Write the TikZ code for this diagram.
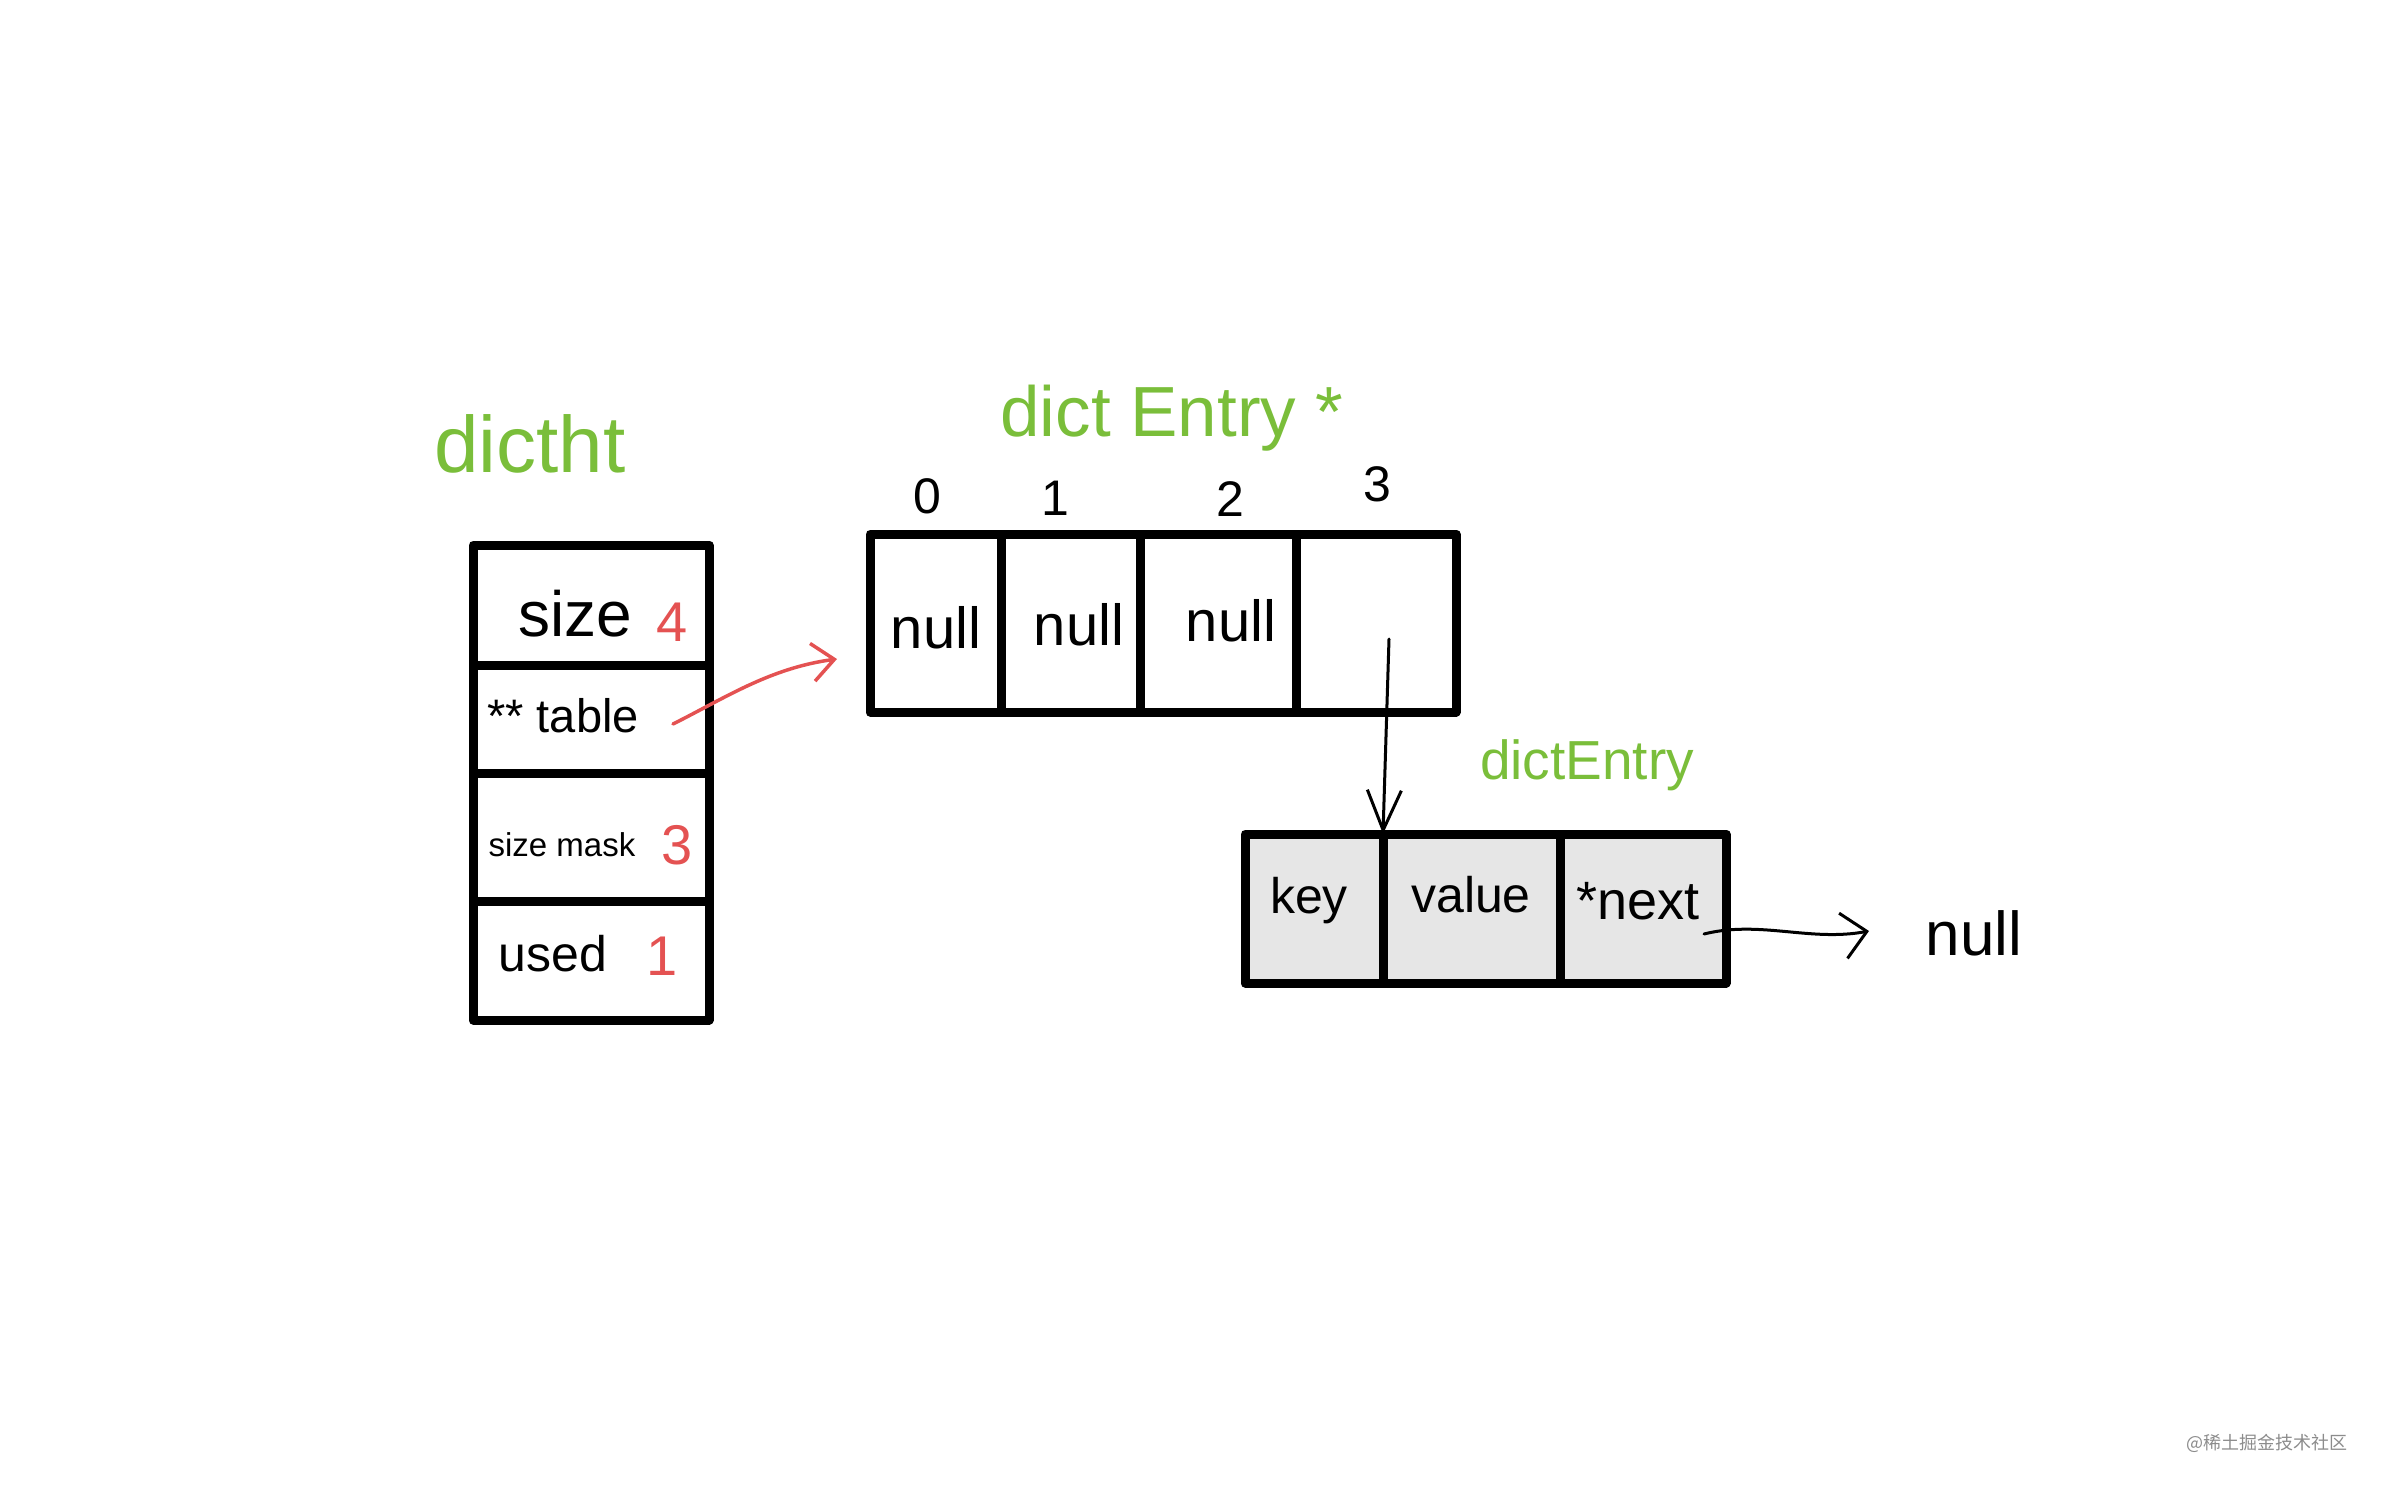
\documentclass[tikz,border=0pt]{standalone}
\usepackage{fontspec}
\setmainfont{Liberation Sans}
\newfontfamily\cjkfont{Noto Sans CJK SC}
\usetikzlibrary{arrows.meta}
\definecolor{hgreen}{RGB}{122,190,58}
\definecolor{hred}{RGB}{228,82,82}
\definecolor{cellgray}{RGB}{230,230,230}
\begin{document}
\begin{tikzpicture}[x=1pt,y=-1pt,
  cell/.style={draw=black,line width=9pt,inner sep=0pt,outer sep=0pt,line join=round},
  ecell/.style={cell,fill=cellgray},
  txt/.style={inner sep=0pt,font=\fontsize{#1}{#1}\selectfont},
  gtxt/.style={txt=#1,text=hgreen},
  rtxt/.style={txt=#1,text=hred},
  ptr/.style={line width=3pt,-{Straight Barb[length=#1]},line cap=round},
]
\useasboundingbox (0,0) rectangle (2386,1491);
% dictht
\node[gtxt=80] (lblht) at (530,444) {dictht};
\node[cell,minimum width=236pt,minimum height=120pt] (c1) at (591,605) {};
\node[cell,minimum width=236pt,minimum height=108pt] (c2) at (591,719) {};
\node[cell,minimum width=236pt,minimum height=128pt] (c3) at (591,837) {};
\node[cell,minimum width=236pt,minimum height=119pt] (c4) at (591,960.5) {};
\node[txt=64] (tsize) at (575,614) {size};
\node[rtxt=56] (vsize) at (672,622) {4};
\node[txt=47] (ttable) at (563,716) {** table};
\node[txt=33] (tmask) at (562,845) {size mask};
\node[rtxt=56] (vmask) at (677,845) {3};
\node[txt=50] (tused) at (553,954) {used};
\node[rtxt=56] (vused) at (662,956) {1};
% table array
\node[gtxt=71] (lblarr) at (1172,418) {dict Entry *};
\node[txt=50] (i0) at (927,496) {0};
\node[txt=50] (i1) at (1055,498) {1};
\node[txt=50] (i2) at (1230,499) {2};
\node[txt=50] (i3) at (1377,484) {3};
\node[cell,minimum width=131pt,minimum height=178pt] (a0) at (935.5,623) {};
\node[cell,minimum width=139pt,minimum height=178pt] (a1) at (1070.5,623) {};
\node[cell,minimum width=156pt,minimum height=178pt] (a2) at (1218,623) {};
\node[cell,minimum width=160pt,minimum height=178pt] (a3) at (1376,623) {};
\node[txt=58] (n0) at (936,628) {null};
\node[txt=58] (n1) at (1079,625) {null};
\node[txt=58] (n2) at (1231,621) {null};
% entry
\node[gtxt=55] (lblent) at (1587,765) {dictEntry};
\node[ecell,minimum width=138pt,minimum height=149pt] (e0) at (1314,908.5) {};
\node[ecell,minimum width=177pt,minimum height=149pt] (e1) at (1471.5,908.5) {};
\node[ecell,minimum width=166pt,minimum height=149pt] (e2) at (1643,908.5) {};
\node[txt=50] (tkey) at (1309,901) {key};
\node[txt=50] (tval) at (1471,895) {value};
\node[txt=54] (tnext) at (1638,901) {*next};
\node[txt=62] (nend) at (1974,933) {null};
% connectors
\coordinate (tblptr) at (673,724);
\coordinate (tblend) at (837,659);
\draw[draw=hred,line width=3.5pt,line cap=round,-{Straight Barb[length=22pt,width=38pt]}] (tblptr) .. controls (725,698) and (770,668) .. (tblend);
\coordinate (bktptr) at (1389,639);
\draw[line width=3pt,line cap=round,-{Straight Barb[length=40pt,width=34pt]}] (bktptr) -- (e0.north east);
\coordinate (nextptr) at (1704,934);
\coordinate (nextend) at (1869,931);
\draw[line width=3pt,line cap=round,-{Straight Barb[length=24pt,width=46pt]}] (nextptr) .. controls (1760,920) and (1810,942) .. (nextend);
% watermark
\node[inner sep=0pt,font=\cjkfont\fontsize{18}{20}\selectfont,text=black!45] (wm) at (2267,1443) {@稀土掘金技术社区};
\end{tikzpicture}
\end{document}
